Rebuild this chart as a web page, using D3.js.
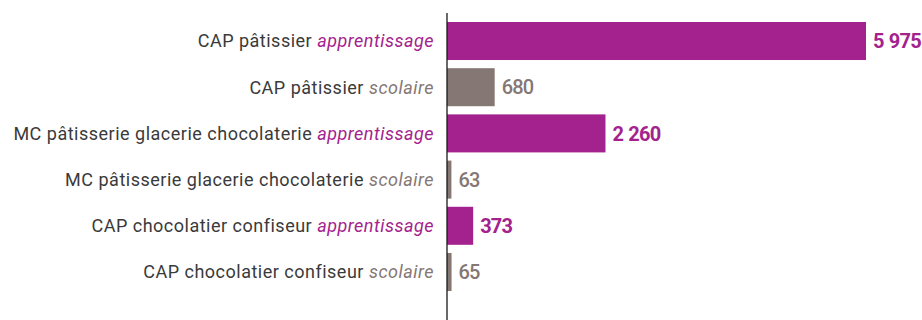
<!DOCTYPE html>
<html>
<head>
<meta charset="utf-8">
<script src="https://cdn.jsdelivr.net/npm/d3@7"></script>
<style>
  html, body { margin: 0; padding: 0; background: #fff; }
  svg { display: block; }
</style>
</head>
<body>
<svg id="chart" width="922" height="320"></svg>
<script>
// Formations et effectifs
const formations = [
  "CAP pâtissier",
  "CAP pâtissier",
  "MC pâtisserie glacerie chocolaterie",
  "MC pâtisserie glacerie chocolaterie",
  "CAP chocolatier confiseur",
  "CAP chocolatier confiseur"
];
const voies = ["apprentissage", "scolaire", "apprentissage", "scolaire", "apprentissage", "scolaire"];
const effectifs = [5975, 680, 2260, 63, 373, 65];

const couleurs = { apprentissage: "#a3228d", scolaire: "#857773" };
const W = 922, H = 320;
const axisX = 447;

const rows = effectifs.map((v, i) => ({ id: i, name: formations[i], voie: voies[i], value: v }));

const svg = d3.select("#chart");

const x = d3.scaleLinear().domain([0, 5975]).range([axisX, 866]);
const y = d3.scaleBand()
  .domain(rows.map(d => d.id))
  .range([22, 291])
  .paddingInner(0.177)
  .paddingOuter(0);

const fmt = v => d3.format(",")(v).replace(/,/g, " ");

// Barres
svg.append("g").selectAll("rect").data(rows).join("rect")
  .attr("x", x(0))
  .attr("y", d => y(d.id))
  .attr("width", d => x(d.value) - x(0))
  .attr("height", y.bandwidth())
  .attr("fill", d => couleurs[d.voie]);

// Libellés des formations
const labels = svg.append("g").selectAll("text").data(rows).join("text")
  .attr("x", axisX - 13)
  .attr("y", d => y(d.id) + y.bandwidth() / 2)
  .attr("dy", "0.35em")
  .attr("text-anchor", "end")
  .style("font-family", "Roboto, sans-serif")
  .style("font-size", "18px")
  .style("letter-spacing", "0.5px")
  .attr("fill", "#3a3a3a");
labels.append("tspan").text(d => d.name + " ");
labels.append("tspan")
  .style("font-style", "italic")
  .attr("fill", d => couleurs[d.voie])
  .text(d => d.voie);

// Valeurs
svg.append("g").selectAll("text").data(rows).join("text")
  .attr("x", d => x(d.value) + 7)
  .attr("y", d => y(d.id) + y.bandwidth() / 2)
  .attr("dy", "0.36em")
  .style("font-family", "Roboto, sans-serif")
  .style("font-size", "20px")
  .style("letter-spacing", "-0.8px")
  .style("word-spacing", "1px")
  .style("font-weight", d => d.voie === "apprentissage" ? "bold" : "500")
  .attr("fill", d => couleurs[d.voie])
  .text(d => fmt(d.value));

// Axe vertical
svg.append("line")
  .attr("x1", axisX).attr("x2", axisX)
  .attr("y1", 13).attr("y2", H)
  .attr("stroke", "#1a1a1a")
  .attr("stroke-width", 1.3);
</script>
</body>
</html>
